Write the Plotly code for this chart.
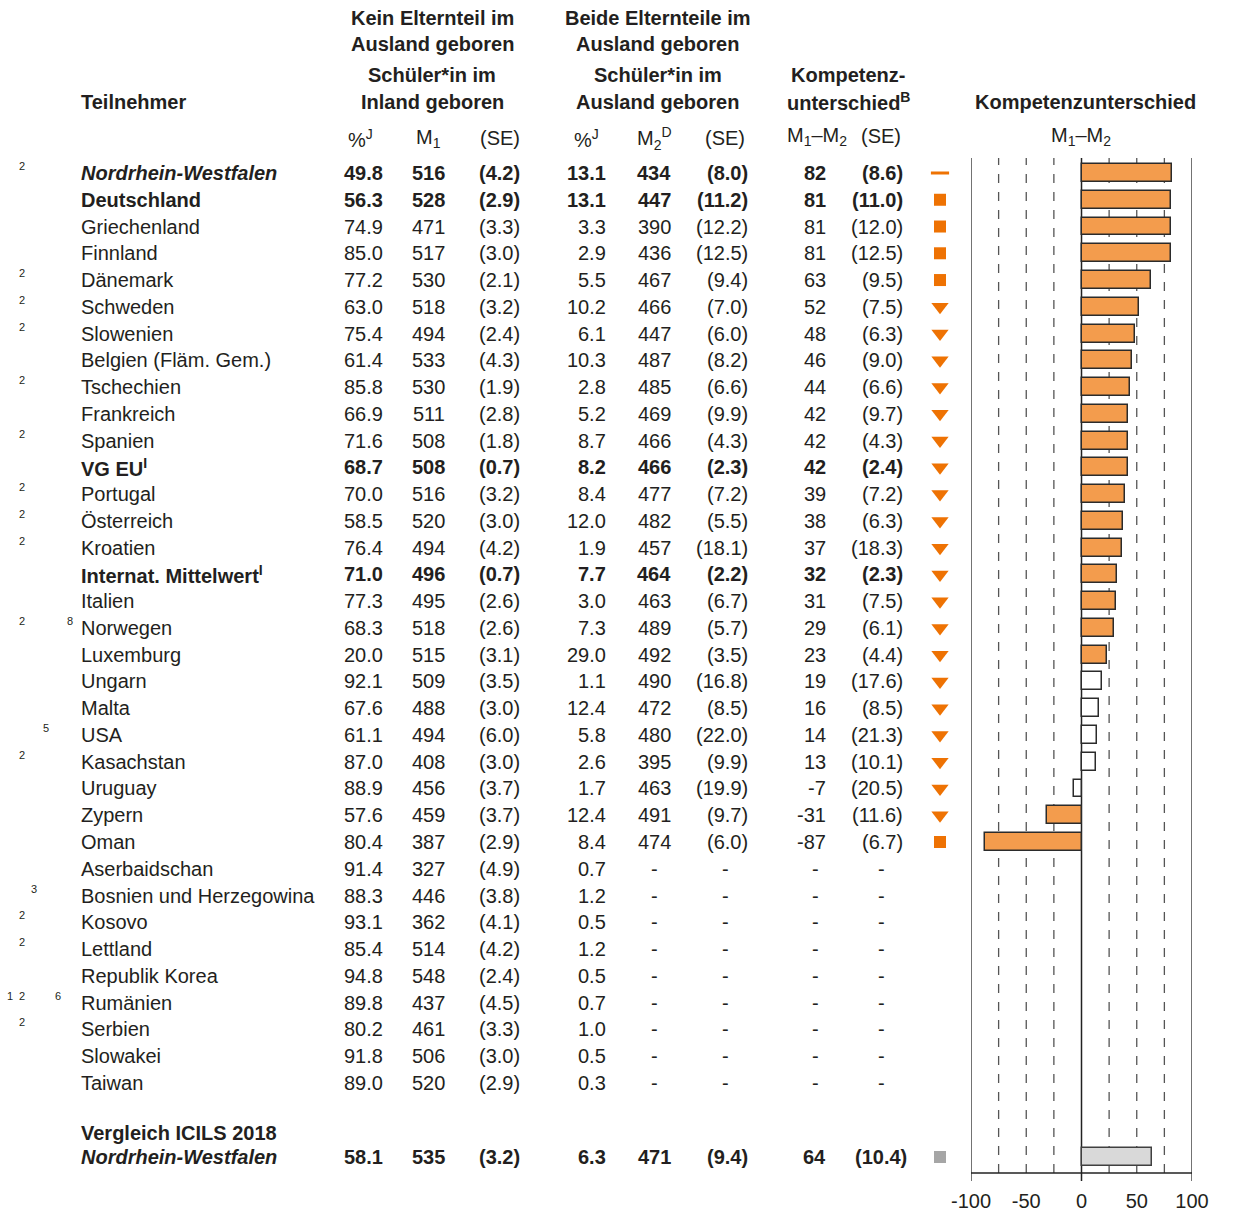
import plotly.graph_objects as go

W, H = 1236, 1213

# ---- data -------------------------------------------------------------
names = ["Nordrhein-Westfalen", "Deutschland", "Griechenland", "Finnland", "Dänemark",
         "Schweden", "Slowenien", "Belgien (Fläm. Gem.)", "Tschechien", "Frankreich",
         "Spanien", "VG EU<sup>I</sup>", "Portugal", "Österreich", "Kroatien",
         "Internat. Mittelwert<sup>I</sup>", "Italien", "Norwegen", "Luxemburg", "Ungarn",
         "Malta", "USA", "Kasachstan", "Uruguay", "Zypern", "Oman", "Aserbaidschan",
         "Bosnien und Herzegowina", "Kosovo", "Lettland", "Republik Korea", "Rumänien",
         "Serbien", "Slowakei", "Taiwan"]
notes = ["2", "", "", "", "2", "2", "2", "", "2", "", "2", "", "2", "2", "2", "", "",
         "28", "", "", "", "5", "2", "", "", "", "", "3", "2", "2", "", "126", "2", "", ""]
style = ["bi", "b", "", "", "", "", "", "", "", "", "", "b", "", "", "", "b", "", "", "",
         "", "", "", "", "", "", "", "", "", "", "", "", "", "", "", ""]

pct1 = [49.8, 56.3, 74.9, 85.0, 77.2, 63.0, 75.4, 61.4, 85.8, 66.9, 71.6, 68.7, 70.0, 58.5,
        76.4, 71.0, 77.3, 68.3, 20.0, 92.1, 67.6, 61.1, 87.0, 88.9, 57.6, 80.4, 91.4, 88.3,
        93.1, 85.4, 94.8, 89.8, 80.2, 91.8, 89.0]
m1 = [516, 528, 471, 517, 530, 518, 494, 533, 530, 511, 508, 508, 516, 520, 494, 496, 495,
      518, 515, 509, 488, 494, 408, 456, 459, 387, 327, 446, 362, 514, 548, 437, 461, 506, 520]
se1 = [4.2, 2.9, 3.3, 3.0, 2.1, 3.2, 2.4, 4.3, 1.9, 2.8, 1.8, 0.7, 3.2, 3.0, 4.2, 0.7, 2.6,
       2.6, 3.1, 3.5, 3.0, 6.0, 3.0, 3.7, 3.7, 2.9, 4.9, 3.8, 4.1, 4.2, 2.4, 4.5, 3.3, 3.0, 2.9]
pct2 = [13.1, 13.1, 3.3, 2.9, 5.5, 10.2, 6.1, 10.3, 2.8, 5.2, 8.7, 8.2, 8.4, 12.0, 1.9, 7.7,
        3.0, 7.3, 29.0, 1.1, 12.4, 5.8, 2.6, 1.7, 12.4, 8.4, 0.7, 1.2, 0.5, 1.2, 0.5, 0.7,
        1.0, 0.5, 0.3]
m2 = [434, 447, 390, 436, 467, 466, 447, 487, 485, 469, 466, 466, 477, 482, 457, 464, 463,
      489, 492, 490, 472, 480, 395, 463, 491, 474]
se2 = [8.0, 11.2, 12.2, 12.5, 9.4, 7.0, 6.0, 8.2, 6.6, 9.9, 4.3, 2.3, 7.2, 5.5, 18.1, 2.2,
       6.7, 5.7, 3.5, 16.8, 8.5, 22.0, 9.9, 19.9, 9.7, 6.0]
diff = [82, 81, 81, 81, 63, 52, 48, 46, 44, 42, 42, 42, 39, 38, 37, 32, 31, 29, 23, 19, 16,
        14, 13, -7, -31, -87]
se_diff = [8.6, 11.0, 12.0, 12.5, 9.5, 7.5, 6.3, 9.0, 6.6, 9.7, 4.3, 2.4, 7.2, 6.3, 18.3,
           2.3, 7.5, 6.1, 4.4, 17.6, 8.5, 21.3, 10.1, 20.5, 11.6, 6.7]
significant = [1] * 19 + [0] * 5 + [1, 1]
marks = ["dash"] + ["square"] * 4 + ["down"] * 20 + ["square"]

# ICILS 2018 comparison row
ref_name = "Nordrhein-Westfalen"
ref_vals = dict(pct1=58.1, m1=535, se1=3.2, pct2=6.3, m2=471, se2=9.4, diff=64, se_diff=10.4)

# ---- layout helpers -----------------------------------------------------
FONT = "Liberation Sans, Arial, sans-serif"
FS = 20
TXT = "#231F20"
ORANGE = "#F39C4D"
MARK = "#EE7203"
ROW0, STEP = 173, 26.76          # pixel of first row, pixel per row
ref_row = (1157 - ROW0) / STEP
ref_title_row = (1133 - ROW0) / STEP
y_top = -ROW0 / STEP
y_bot = (H - ROW0) / STEP
MARK_X = 940

fig = go.Figure()

n_bar = len(diff)
rows = list(range(n_bar))
fills = [ORANGE if s else "white" for s in significant]
fig.add_trace(go.Bar(x=diff, y=rows, orientation="h", width=0.67,
                     marker=dict(color=fills, line=dict(color="#2b2b2b", width=1.5)),
                     xaxis="x", yaxis="y", showlegend=False))
fig.add_trace(go.Bar(x=[ref_vals["diff"]], y=[ref_row], orientation="h", width=0.67,
                     marker=dict(color="#D9D9D9", line=dict(color="#404040", width=1.5)),
                     xaxis="x", yaxis="y", showlegend=False))

for kind in ["dash", "square", "down"]:
    idx = [i for i, m in enumerate(marks) if m == kind]
    if kind == "dash":
        mk = dict(symbol="line-ew", size=13, line=dict(color=MARK, width=3))
    elif kind == "square":
        mk = dict(symbol="square", size=12, color=MARK, line=dict(width=0))
    else:
        mk = dict(symbol="triangle-down", size=15, color=MARK, line=dict(width=0))
    fig.add_trace(go.Scatter(x=[MARK_X] * len(idx), y=idx, mode="markers", marker=mk,
                             xaxis="x2", yaxis="y", showlegend=False, hoverinfo="skip"))
fig.add_trace(go.Scatter(x=[MARK_X], y=[ref_row], mode="markers",
                         marker=dict(symbol="square", size=12, color="#A6A6A6"),
                         xaxis="x2", yaxis="y", showlegend=False, hoverinfo="skip"))

ann = []


def txt(x, y, s, anchor="right", size=FS, yref="y", yshift=0, color=TXT):
    ann.append(dict(x=x / W, y=y, xref="paper", yref=yref, text=s, showarrow=False,
                    xanchor=anchor, yanchor="middle", yshift=yshift,
                    borderpad=0, borderwidth=0,
                    font=dict(family=FONT, size=size, color=color)))


def wrap(s, st):
    if "i" in st:
        s = "<i>" + s + "</i>"
    if "b" in st:
        s = "<b>" + s + "</b>"
    return s


def num(s, st):
    return "<b>" + s + "</b>" if "b" in st else s


note_x = {"1": 10, "2": 22, "3": 34, "5": 46, "6": 58, "8": 70}

cols_r = dict(pct1=383, m1=445, se1=520, pct2=606, m2=671, se2=748, diff=826, se_diff=903)
dash_c = dict(m2=655, se2=725, diff=815, se_diff=881)

for i, name in enumerate(names):
    st = style[i]
    txt(81, i, wrap(name, st), anchor="left")
    for ch in notes[i]:
        txt(note_x[ch], i, ch, anchor="center", size=11, yshift=7)
    txt(cols_r["pct1"], i, num(f"{pct1[i]:.1f}", st))
    txt(cols_r["m1"], i, num(f"{m1[i]}", st))
    txt(cols_r["se1"], i, num(f"({se1[i]:.1f})", st))
    txt(cols_r["pct2"], i, num(f"{pct2[i]:.1f}", st))
    if i < n_bar:
        txt(cols_r["m2"], i, num(f"{m2[i]}", st))
        txt(cols_r["se2"], i, num(f"({se2[i]:.1f})", st))
        txt(cols_r["diff"], i, num(f"{diff[i]}", st))
        txt(cols_r["se_diff"], i, num(f"({se_diff[i]:.1f})", st))
    else:
        for k, xc in dash_c.items():
            txt(xc, i, "-", anchor="center")

# comparison block
txt(81, ref_title_row, "<b>Vergleich ICILS 2018</b>", anchor="left")
txt(81, ref_row, "<b><i>" + ref_name + "</i></b>", anchor="left")
rv = ref_vals
txt(cols_r["pct1"], ref_row, f"<b>{rv['pct1']:.1f}</b>")
txt(cols_r["m1"], ref_row, f"<b>{rv['m1']}</b>")
txt(cols_r["se1"], ref_row, f"<b>({rv['se1']:.1f})</b>")
txt(cols_r["pct2"], ref_row, f"<b>{rv['pct2']:.1f}</b>")
txt(cols_r["m2"], ref_row, f"<b>{rv['m2']}</b>")
txt(cols_r["se2"], ref_row, f"<b>({rv['se2']:.1f})</b>")
txt(cols_r["diff"], ref_row, f"<b>{rv['diff']}</b>")
txt(907, ref_row, f"<b>({rv['se_diff']:.1f})</b>")


# headers (paper y from pixel)
def hdr(x, py, s, anchor="center", size=FS):
    txt(x, 1 - py / H, s, anchor=anchor, size=size, yref="paper")


hdr(432, 18, "<b>Kein Elternteil im</b>")
hdr(432, 44, "<b>Ausland geboren</b>")
hdr(432, 75, "<b>Schüler*in im</b>")
hdr(432, 102, "<b>Inland geboren</b>")
hdr(658, 18, "<b>Beide Elternteile im</b>")
hdr(658, 44, "<b>Ausland geboren</b>")
hdr(658, 75, "<b>Schüler*in im</b>")
hdr(658, 102, "<b>Ausland geboren</b>")
hdr(848, 75, "<b>Kompetenz-</b>")
hdr(848, 102, "<b>unterschied<sup>B</sup></b>")
hdr(81, 102, "<b>Teilnehmer</b>", anchor="left")
hdr(1085, 102, "<b>Kompetenzunterschied</b>")
hdr(360, 138, "%<sup>J</sup>")
hdr(428, 138, "M<sub>1</sub>")
hdr(500, 138, "(SE)")
hdr(586, 138, "%<sup>J</sup>")
hdr(654, 138, "M<sub>2</sub><sup>D</sup>")
hdr(725, 138, "(SE)")
hdr(817, 136, "M<sub>1</sub>–M<sub>2</sub>")
hdr(881, 136, "(SE)")
hdr(1081, 136, "M<sub>1</sub>–M<sub>2</sub>")

# reference lines of the bar panel
shapes = []
yl_top = 1 - 158 / H
yl_bot = 1 - 1173 / H
yl_tick = 1 - 1181 / H
for v in [-75, -50, -25, 25, 50, 75]:
    shapes.append(dict(type="line", xref="x", yref="paper", x0=v, x1=v, y0=yl_bot, y1=yl_top,
                       line=dict(color="#555555", width=1.3, dash="dash"), layer="below"))
for v in [-100, 0, 100]:
    shapes.append(dict(type="line", xref="x", yref="paper", x0=v, x1=v, y0=yl_tick, y1=yl_top,
                       line=dict(color="#222222" if v == 0 else "#444444", width=1.5),
                       layer="below"))
shapes.append(dict(type="line", xref="x", yref="paper", x0=-100, x1=100, y0=yl_bot, y1=yl_bot,
                   line=dict(color="#222222", width=1.5)))

fig.update_layout(
    template="none",
    width=W, height=H, margin=dict(l=0, r=0, t=0, b=0, pad=0, autoexpand=False),
    paper_bgcolor="white", plot_bgcolor="rgba(0,0,0,0)",
    bargap=0, annotations=ann, shapes=shapes, showlegend=False,
    xaxis=dict(domain=[971 / W, 1192 / W], range=[-100, 100], showgrid=False,
               zeroline=False, showline=False, tickvals=[-100, -50, 0, 50, 100],
               ticktext=["-100", "-50", "0", "50", "100"], ticks="", automargin=False,
               tickfont=dict(family=FONT, size=FS, color=TXT), anchor="free",
               position=1 - 1173 / H, ticklabelstandoff=14),
    xaxis2=dict(domain=[0, 1], range=[0, W], visible=False, anchor="y", automargin=False),
    yaxis=dict(domain=[0, 1], range=[y_bot, y_top], visible=False, automargin=False),
)

fig.write_html("out.html", config={"displayModeBar": False},
               post_script="document.body.style.margin='0';")
